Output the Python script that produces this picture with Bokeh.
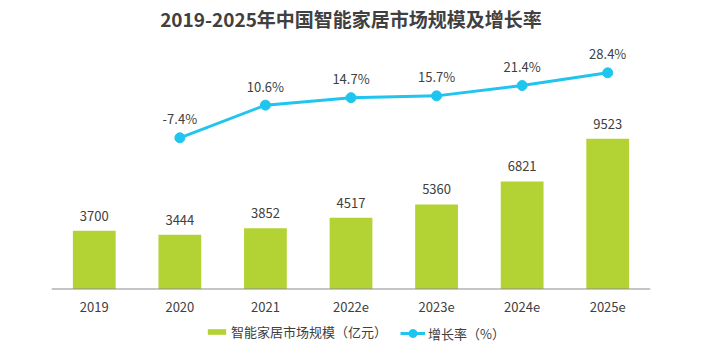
from bokeh.plotting import figure
from bokeh.models import ColumnDataSource, Range1d, Legend, LegendItem, Span, Label
from bokeh.core.properties import value
from bokeh.embed import file_html
from bokeh.resources import INLINE

years = ["2019", "2020", "2021", "2022e", "2023e", "2024e", "2025e"]
market = [3700, 3444, 3852, 4517, 5360, 6821, 9523]
rate_years = ["2020", "2021", "2022e", "2023e", "2024e", "2025e"]
rate = [-7.4, 10.6, 14.7, 15.7, 21.4, 28.4]
title_text = "2019-2025年中国智能家居市场规模及增长率"
legend_labels = ["智能家居市场规模（亿元）", "增长率（%）"]

FONT = "Noto Sans CJK SC"
GREEN = "#b3d334"
CYAN = "#20c5ef"
TXT = "#404040"

bar_src = ColumnDataSource(dict(x=years, y=market, lab=[str(v) for v in market],
                                base=[0] * len(years)))
line_src = ColumnDataSource(dict(x=rate_years, y=rate, lab=["%.1f%%" % v for v in rate]))

p = figure(width=715, height=353, x_range=years, y_range=Range1d(-4090, 18294),
           output_backend="svg", toolbar_location=None,
           min_border_left=51, min_border_right=65, min_border_top=0, min_border_bottom=0,
           x_axis_location=None, y_axis_location=None)
p.extra_y_ranges = {"rate": Range1d(-126.2, 68.23)}

p.outline_line_color = None
p.grid.visible = False
p.background_fill_color = "white"

# title
p.add_layout(Label(x=(len(years) - 1) / 2 + 0.5, y=335, x_units="data", y_units="screen",
                   text=title_text, text_align="center", text_baseline="middle",
                   text_font=FONT, text_font_size="19px", text_font_style="bold",
                   text_color=TXT))

bars = p.vbar(x="x", top="y", width=0.5, source=bar_src, fill_color=GREEN, line_color=None)
p.text(x="x", y="y", text="lab", source=bar_src, text_align="center", text_baseline="middle",
       y_offset=-15, text_font=value(FONT), text_font_size="13px", text_color=TXT)

# category axis: baseline and labels
p.add_layout(Span(location=0, dimension="width", line_color="#8c8c8c", line_width=1))
p.text(x="x", y="base", text="x", source=bar_src, text_align="center", text_baseline="middle",
       y_offset=18, text_font=value(FONT), text_font_size="13px", text_color=TXT)

ln = p.line(x="x", y="y", source=line_src, y_range_name="rate", line_color=CYAN, line_width=3)
pts = p.scatter(x="x", y="y", source=line_src, y_range_name="rate", size=10,
                fill_color=CYAN, line_color=CYAN)
p.text(x="x", y="y", text="lab", source=line_src, y_range_name="rate", text_align="center",
       text_baseline="middle", y_offset=-19, text_font=value(FONT), text_font_size="13px",
       text_color=TXT)

common = dict(orientation="horizontal", label_text_font=FONT, label_text_font_size="13px",
              label_text_color=TXT, label_standoff=3, label_height=16, padding=0, margin=0,
              border_line_color=None, background_fill_alpha=0)
leg1 = Legend(items=[LegendItem(label=legend_labels[0], renderers=[bars])],
              location=(154, 12), glyph_width=23, glyph_height=7, **common)
leg2 = Legend(items=[LegendItem(label=legend_labels[1], renderers=[ln, pts])],
              location=(349, 10), glyph_width=25, glyph_height=20, **common)
p.add_layout(leg1)
p.add_layout(leg2)

open("out.html", "w").write(file_html(p, INLINE))
